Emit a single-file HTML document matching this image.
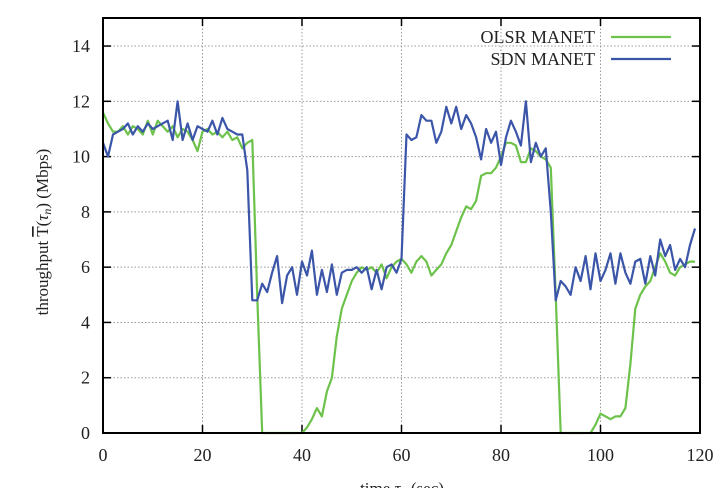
<!DOCTYPE html>
<html><head><meta charset="utf-8"><style>
body{margin:0;background:#fff;}
svg{display:block;font-family:"Liberation Serif",serif;}
</style></head><body>
<svg id="s" width="721" height="488" viewBox="0 0 721 488" xmlns="http://www.w3.org/2000/svg">
<g id="grid" stroke="#999" stroke-width="1" stroke-dasharray="1.5,2"></g>
<g id="ticks" stroke="#000" stroke-width="1.5"></g>
<g id="labels" font-size="18" fill="#222"></g>
<polyline id="g" fill="none" stroke="#6cc24a" stroke-width="2.2" stroke-linejoin="round"/>
<polyline id="b" fill="none" stroke="#3b55a8" stroke-width="2.2" stroke-linejoin="round"/>
<rect x="103" y="18" width="597" height="415" fill="none" stroke="#000" stroke-width="2"/>
<text x="595" y="43" font-size="18" text-anchor="end" fill="#222">OLSR MANET</text>
<text x="595" y="65" font-size="18" text-anchor="end" fill="#222">SDN MANET</text>
<line x1="611" y1="37" x2="671" y2="37" stroke="#6cc24a" stroke-width="2.2"/>
<line x1="611" y1="59" x2="671" y2="59" stroke="#3b55a8" stroke-width="2.2"/>
<text transform="translate(48,232) rotate(-90)" font-size="17" text-anchor="middle" fill="#222">throughput <tspan text-decoration="overline">T</tspan>(<tspan font-style="italic">τ<tspan font-size="12" dy="3">n</tspan></tspan><tspan dy="-3">) (Mbps)</tspan></text>
<text x="402" y="494" font-size="17" text-anchor="middle" fill="#222">time <tspan font-style="italic">τ<tspan font-size="12" dy="3">n</tspan></tspan><tspan dy="-3"> (sec)</tspan></text>
</svg>
<script>
var X=function(t){return 103+t*597/120},Y=function(v){return 433-v*27.64};
var ns="http://www.w3.org/2000/svg";
function el(p,n,a,txt){var e=document.createElementNS(ns,n);for(var k in a)e.setAttribute(k,a[k]);if(txt!=null)e.textContent=txt;document.getElementById(p).appendChild(e);}
for(var t=0;t<=120;t+=20){var x=X(t);if(t>0&&t<120)el("grid","line",{x1:x,y1:18,x2:x,y2:433});
el("ticks","line",{x1:x,y1:433,x2:x,y2:425});el("ticks","line",{x1:x,y1:18,x2:x,y2:26});
el("labels","text",{x:x,y:461,"text-anchor":"middle"},t);}
for(var v=0;v<=14;v+=2){var y=Y(v);if(v>0)el("grid","line",{x1:103,y1:y,x2:700,y2:y});
el("ticks","line",{x1:103,y1:y,x2:111,y2:y});el("ticks","line",{x1:700,y1:y,x2:692,y2:y});
el("labels","text",{x:90,y:y+6,"text-anchor":"end"},v);}
var B=[10.5,10,10.8,10.9,11,11.2,10.8,11.1,10.9,11.2,11,11.1,11.2,11.3,10.6,12,10.6,11.2,10.6,11.1,11,10.9,11.3,10.8,11.4,11,10.9,10.8,10.8,9.5,4.8,4.8,5.4,5.1,5.8,6.4,4.7,5.7,6,5,6.2,5.7,6.6,5,5.9,5.1,6.1,5,5.8,5.9,5.9,6,5.8,6,5.2,5.9,5.2,6,6.1,5.8,6.3,10.8,10.6,10.7,11.5,11.3,11.3,10.5,10.9,11.8,11.2,11.8,11,11.5,11.2,10.7,9.9,11,10.5,10.9,9.7,10.7,11.3,10.9,10.4,12,9.8,10.5,10,10.3,8,4.8,5.5,5.3,5,6,5.5,6.4,5.2,6.5,5.5,5.9,6.5,5.4,6.5,5.8,5.4,6.2,6.3,5.4,6.4,5.7,7,6.4,6.8,5.9,6.3,6,6.8,7.4];
var G=[11.6,11.2,10.9,10.9,11.1,10.8,11.1,11,10.8,11.3,10.8,11.3,11.1,10.9,11.1,10.7,11,10.9,10.6,10.2,10.9,11,10.8,10.9,10.7,10.9,10.6,10.7,10.3,10.5,10.6,5,0,0,0,0,0,0,0,0,0,0.2,0.5,0.9,0.6,1.5,2,3.5,4.5,5,5.5,5.8,6,5.9,6,5.8,6.1,5.6,6,6.2,6.3,6.1,5.8,6.2,6.4,6.2,5.7,5.9,6.1,6.5,6.8,7.3,7.8,8.2,8.1,8.4,9.3,9.4,9.4,9.6,10,10.5,10.5,10.4,9.8,9.8,10.3,10.2,10,9.9,9.6,5,0,0,0,0,0,0,0,0.3,0.7,0.6,0.5,0.6,0.6,0.9,2.5,4.5,5,5.3,5.5,6,6.5,6.2,5.8,5.7,6,6.1,6.2,6.2];
function pts(a){return a.map(function(v,i){return X(i).toFixed(1)+","+Y(v).toFixed(1)}).join(" ");}
document.getElementById("b").setAttribute("points",pts(B));
document.getElementById("g").setAttribute("points",pts(G));
</script>
</body></html>
